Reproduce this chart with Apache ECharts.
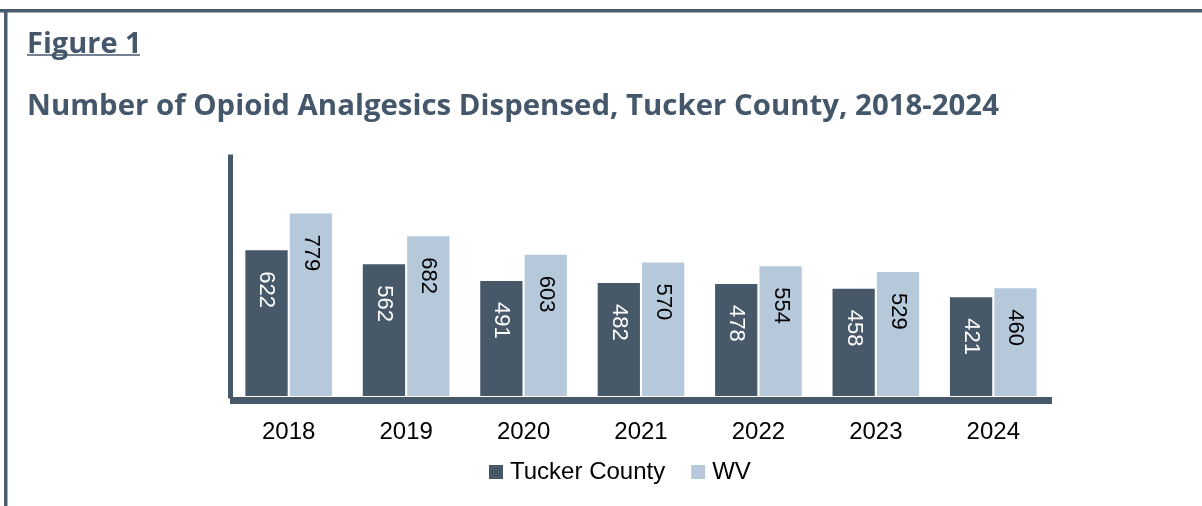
<!DOCTYPE html>
<html>
<head>
<meta charset="utf-8">
<script src="https://cdn.jsdelivr.net/npm/echarts@6/dist/echarts.min.js"></script>
<style>
  html, body { margin: 0; padding: 0; background: #fff; }
  #chart { width: 1202px; height: 506px; }
</style>
</head>
<body>
<div id="chart"></div>
<script>
// values
const years = ['2018', '2019', '2020', '2021', '2022', '2023', '2024'];
const tuckerCounty = [622, 562, 491, 482, 478, 458, 421];
const westVirginia = [779, 682, 603, 570, 554, 529, 460];

const slate = '#475869';
const paleBlue = '#b6c9db';
const titleColor = '#44576b';
const font = 'Liberation Sans, Arial, sans-serif';

const chart = echarts.init(document.getElementById('chart'), null, { renderer: 'canvas' });

function barLabel(color) {
  return {
    show: true,
    position: ['50%', 21],
    rotate: -90,
    align: 'left',
    verticalAlign: 'middle',
    color: color,
    fontSize: 22,
    fontFamily: font
  };
}

chart.setOption({
  backgroundColor: '#fff',
  animation: false,
  title: [
    {
      text: 'Figure 1',
      left: 27, top: 30, padding: 0,
      textStyle: { color: titleColor, fontSize: 29, fontWeight: 'bold', fontFamily: 'Open Sans, sans-serif' }
    },
    {
      text: 'Number of Opioid Analgesics Dispensed, Tucker County, 2018-2024',
      left: 27, top: 92, padding: 0,
      textStyle: { color: titleColor, fontSize: 29.4, fontWeight: 'bold', fontFamily: 'Open Sans, sans-serif' }
    }
  ],
  graphic: [
    // frame: top and left rules
    { type: 'rect', shape: { x: 0, y: 9, width: 1202, height: 3.5 }, style: { fill: '#4a5b6d' }, silent: true },
    { type: 'rect', shape: { x: 4, y: 9, width: 3.5, height: 497 }, style: { fill: '#4a5b6d' }, silent: true },
    // underline for "Figure 1"
    { type: 'line', shape: { x1: 27, y1: 55, x2: 140, y2: 55 }, style: { stroke: titleColor, lineWidth: 1.5 }, silent: true }
  ],
  legend: {
    left: 489, top: 460, padding: 0,
    itemWidth: 14, itemHeight: 14, itemGap: 26,
    icon: 'rect',
    textStyle: { color: '#000', fontSize: 24, fontFamily: font, padding: [0, 0, 0, 2] },
    data: ['Tucker County', 'WV']
  },
  grid: { left: 230, right: 150, top: 157, bottom: 110, containLabel: false },
  xAxis: {
    type: 'category',
    data: years,
    offset: 4,
    axisLine: { show: true, onZero: false, lineStyle: { color: slate, width: 7, cap: 'butt' } },
    axisTick: { show: false },
    axisLabel: { color: '#000', fontSize: 24, fontFamily: font, margin: 20 }
  },
  yAxis: {
    type: 'value',
    min: 0, max: 1020,
    axisLine: { show: true, lineStyle: { color: slate, width: 5, cap: 'square' } },
    axisTick: { show: false },
    axisLabel: { show: false },
    splitLine: { show: false }
  },
  series: [
    {
      name: 'Tucker County', type: 'bar', data: tuckerCounty,
      barWidth: '36%', barGap: '5%',
      itemStyle: { color: slate },
      label: barLabel('#fff')
    },
    {
      name: 'WV', type: 'bar', data: westVirginia,
      barWidth: '36%', barGap: '5%',
      itemStyle: { color: paleBlue },
      label: barLabel('#000')
    }
  ]
});
</script>
</body>
</html>
